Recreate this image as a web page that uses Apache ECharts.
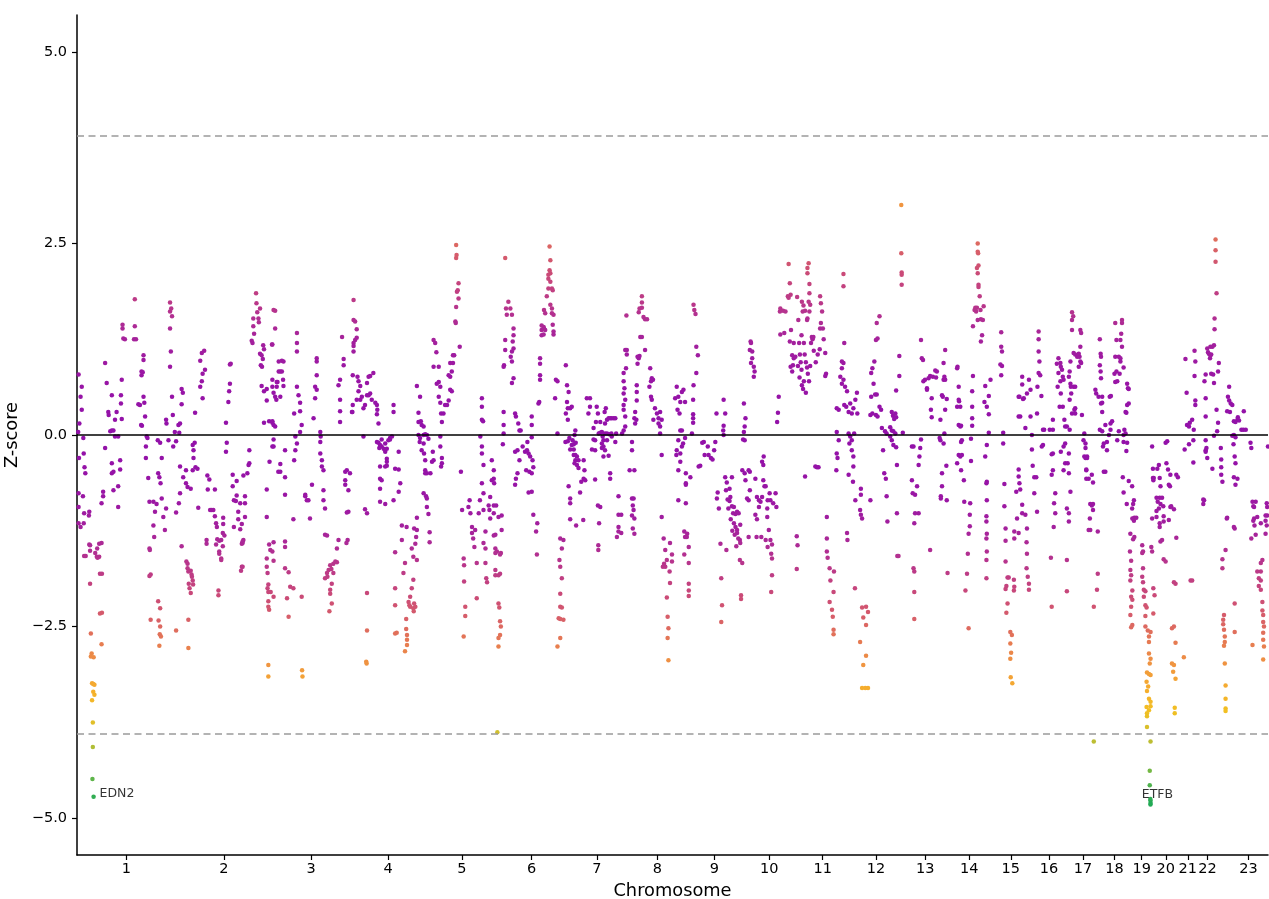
<!DOCTYPE html>
<html><head><meta charset="utf-8">
<script src="https://cdn.jsdelivr.net/npm/echarts@6/dist/echarts.min.js"></script>
<style>html,body{margin:0;padding:0;background:#fff}#c{width:1269px;height:899px}</style>
</head><body><div id="c"></div>
<script>
// Chromosome names and lengths (Mb, hg19)
const chromNames = ['1','2','3','4','5','6','7','8','9','10','11','12','13','14','15','16','17','18','19','20','21','22','23'];
const chromLengthMb = [249.25,243.2,198.0,191.15,180.9,171.1,159.1,146.4,141.2,135.5,135.0,133.85,115.2,107.35,102.5,90.35,81.2,78.1,59.1,63.0,48.1,51.3,155.3];
const yTicks = [-5, -2.5, 0, 2.5, 5];
const threshold = 3.9;
// [position within chromosome (Mb), z-score]
const chr1 = [[4,0.79],[12,0.63],[9,0.5],[12,0.33],[6,0.15],[3,0.04],[16,-0.04],[5,-0.3],[17,-0.24],[19,-0.42],[21,-0.5],[4,-0.76],[15,-0.8],[4,-0.94],[18,-1.02],[4,-1.15],[17,-1.15],[18,-1.58],[9,-1.2],[31,-1.0],[30,-1.05],[31,-1.43],[33,-1.51],[33,-1.94],[22,-1.58],[33,-1.44],[35,-2.59],[37,-2.85],[35,-2.89],[42,-2.9],[38,-3.24],[41,-3.25],[44,-3.26],[41,-3.35],[44,-3.39],[38,-3.46],[40,-3.75],[40,-4.07],[39,-4.49],[41.9,-4.72],[50,-1.59],[52,-1.6],[56,-1.42],[58,-1.81],[63,-1.81],[58,-2.33],[63,-2.32],[62,-2.73],[46,-1.54],[51,-1.48],[56,-1.59],[62,-1.41],[62,-0.89],[66,-0.8],[66,-0.74],[71,-0.17],[71,0.94],[75,0.68],[79,0.3],[80,0.26],[88,0.52],[84,0.05],[88,0.06],[92,0.06],[88,-0.37],[88,-0.5],[92,-0.48],[92,-0.72],[104,-0.67],[104,-0.94],[96,0.2],[100,0.3],[113,0.21],[111,0.41],[111,0.52],[113,0.72],[115,1.44],[115,1.39],[117,1.26],[121,1.25],[109,-0.33],[109,-0.45],[104,-0.02],[96,-0.02],[146,1.77],[146,1.42],[144,1.25],[149,1.25],[155,0.4],[159,0.39],[162,0.13],[164,0.12],[168,1.04],[168,0.98],[163,0.83],[163,0.78],[166,0.82],[168,0.5],[170,0.42],[172,0.24],[176,-0.02],[178,-0.04],[174,-0.15],[174,-0.3],[180,-0.56],[183,-0.87],[183,-1.48],[186,-1.82],[186,-2.41],[184,-1.5],[183,-1.84],[193,-0.87],[197,-1.0],[193,-1.18],[195,-1.33],[201,-0.9],[205,-0.5],[204,-0.07],[210,-0.1],[214,-0.3],[208,-0.55],[211,-0.63],[214,-0.83],[218,-1.07],[222,-1.24],[225,-0.96],[210,-2.26],[208,-2.75],[205,-2.17],[210,-2.5],[212,-2.63],[206,-2.42],[209,-2.6],[225,0.2],[226,0.15],[231,-0.07],[235,1.61],[235,1.39],[235,0.89],[237,1.09],[235,1.73],[238,1.65],[240,1.55],[240,0.5],[242,0.26],[243,-0.15],[247,0.04]];
const chr2 = [[1,-0.08],[7,0.13],[11,0.15],[9,0.03],[15,0.6],[18,0.55],[15,0.4],[1,-2.55],[26,-0.46],[26,-0.63],[30,-0.68],[11,-0.41],[11,-0.76],[8,-0.89],[19,-0.55],[1,-1.01],[15,-1.45],[43,-0.13],[45,-0.2],[45,-0.3],[43,-0.46],[50,-0.42],[48,-0.1],[55,-0.44],[38,-0.7],[27,-1.65],[30,-1.74],[38,-1.77],[41,-1.85],[43,-1.9],[38,-2.06],[33,-1.94],[32,-2.41],[32,-2.78],[30,-1.68],[32,-1.78],[40,-1.82],[35,-2.0],[44,-1.95],[49,0.29],[62,0.97],[66,1.07],[72,1.1],[74,0.85],[68,0.8],[66,0.7],[62,0.63],[68,0.48],[57,-0.95],[80,-0.53],[85,-0.58],[81,-0.71],[99,-0.71],[87,-0.98],[91,-0.98],[95,-0.98],[99,-1.06],[102,-1.15],[104,-1.2],[105,-1.36],[110,-1.38],[115,-1.37],[119,-1.28],[120,-1.16],[120,-1.08],[123,-1.31],[119,-1.45],[110,-1.52],[115,-1.61],[78,-1.37],[108,-2.03],[108,-2.09],[78,-1.42],[102,-1.43],[110,-1.55],[115,-1.63],[127,0.16],[129,-0.1],[127,-0.22],[137,0.67],[135,0.57],[133,0.43],[137,0.92],[139,0.93],[144,-0.52],[154,-0.6],[147,-0.85],[152,-0.86],[147,-1.2],[154,-0.79],[158,-1.0],[163,-0.89],[158,-1.1],[163,-1.23],[167,-1.16],[167,-1.42],[169,-1.41],[171,-1.37],[175,-1.07],[175,-0.8],[175,-0.89],[181,-0.5],[184,-0.39],[186,-0.37],[186,-0.2],[171,-0.53],[167,-1.72],[165,-1.77],[144,-0.67],[169,-1.39],[169,-1.72],[203,1.85],[204,1.72],[206,1.6],[209,1.52],[213,1.65],[210,1.47],[196,1.42],[196,1.52],[192,1.23],[194,1.2],[198,1.32],[213,1.06],[217,1.04],[220,0.99],[215,0.91],[218,0.89],[221,1.17],[223,1.12],[217,0.64],[223,0.57],[230,0.45],[223,0.16],[236,0.18],[230,0.6],[230,-0.71],[230,-1.07],[236,-1.43],[239,-1.5],[230,-1.72],[232,-1.8],[234,-1.95],[232,-2.0],[234,-2.05],[240,-2.05],[234,-2.17],[234,-2.24],[236,-2.28],[234,-3.0],[234,-3.15],[237,-0.35],[230,-1.61]];
const chr3 = [[1,1.18],[1,0.16],[8,1.62],[11,0.46],[14,0.69],[12,0.63],[4,-0.06],[4,-0.15],[16,-0.48],[4,1.63],[8,1.39],[0,1.18],[17,0.96],[25,0.97],[29,0.96],[17,0.83],[21,0.83],[25,0.83],[28,0.72],[29,0.64],[12,0.69],[1,0.72],[1,0.63],[4,0.55],[8,0.5],[21,0.5],[1,0.18],[4,0.13],[8,0.11],[1,-0.15],[33,-0.2],[21,-0.38],[21,-0.48],[33,-0.55],[33,-0.78],[4,-1.4],[1,-1.52],[4,-1.64],[33,-1.39],[33,-1.46],[4,-2.11],[33,-1.74],[42,-1.79],[46,-1.98],[54,-2.0],[38,-2.13],[42,-2.37],[63,1.33],[63,1.2],[63,1.09],[63,0.63],[67,0.52],[71,0.42],[71,0.31],[75,0.13],[71,0.04],[56,0.28],[59,-0.02],[63,-0.11],[59,-0.2],[56,-0.33],[54,-1.1],[84,-0.78],[88,-0.85],[92,-0.85],[101,-0.65],[96,-1.09],[84,-0.8],[75,-2.11],[76,-3.07],[77,-3.15],[113,1.0],[113,0.96],[113,0.78],[109,0.63],[113,0.59],[109,0.48],[105,0.22],[122,0.04],[123,-0.02],[122,-0.09],[122,-0.24],[126,-0.33],[126,-0.41],[130,-0.46],[130,-0.72],[130,-0.85],[134,-0.96],[134,-1.3],[139,-1.31],[168,-1.37],[164,-1.48],[155,-1.68],[160,-1.65],[164,-1.66],[147,-1.7],[143,-1.76],[139,-1.8],[134,-1.87],[151,-1.94],[147,-2.02],[147,-2.07],[151,-2.2],[145,-2.3],[191,-1.37],[188,-1.41],[140,-1.85],[150,-1.75],[155,-1.8],[177,1.28],[181,0.99],[181,0.91],[172,0.72],[168,0.65],[172,0.46],[172,0.31],[172,0.17],[189,-0.46],[185,-0.48],[197,-0.5],[185,-0.59],[185,-0.65],[193,-0.72],[193,-1.0],[189,-1.01]];
const chr4 = [[8,1.76],[8,1.5],[12,1.48],[16,1.38],[16,1.27],[12,1.24],[8,1.2],[8,1.16],[8,1.09],[6,0.78],[18,0.76],[20.5,0.7],[25,0.64],[20.5,0.57],[16,0.46],[29,0.5],[25,0.46],[6,0.39],[4,0.3],[5,0.3],[33,0.35],[37,0.39],[42,0.68],[46,0.76],[50,0.77],[58,0.81],[50,0.54],[54,0.46],[63,0.42],[67,0.39],[68,0.33],[67,0.27],[71,0.15],[42,0.52],[46,0.52],[33,-0.02],[37,-0.97],[42,-1.02],[42,-2.06],[42,-2.55],[40,-2.96],[41,-2.98],[67,-0.09],[71,-0.1],[75,-0.13],[79,-0.15],[73,-0.17],[84,-0.18],[88,-0.22],[92,-0.18],[96,-0.07],[100,-0.04],[105,-0.02],[100,-0.06],[79,-0.06],[88,-0.11],[92,-0.31],[92,-0.35],[88,-0.41],[92,-0.4],[75,-0.41],[75,-0.57],[79,-0.59],[75,-0.7],[75,-0.87],[88,-0.9],[109,0.39],[109,0.3],[122,-0.22],[113,-0.44],[122,-0.45],[126,-0.63],[122,-0.74],[109,-0.85],[130,-1.18],[130,-1.37],[113,-1.53],[142,-1.2],[138,-1.67],[134,-1.8],[113,-2.0],[113,-2.22],[117,-2.58],[113,-2.59],[141,-2.4],[141,-2.53],[143,-2.61],[143,-2.67],[143,-2.74],[138,-2.82],[168,0.64],[176,0.5],[172,0.29],[172,0.17],[178,0.18],[180,0.13],[185,0.11],[172,0.0],[176,-0.04],[185,0.0],[189,0.01],[175,-0.09],[180,-0.2],[185,-0.11],[186,-0.24],[189,-0.33],[189,-0.46],[189,-0.5],[185,-0.76],[168,-1.08],[161,-1.22],[168,-1.24],[166,-1.33],[164,-1.42],[155,-1.48],[159,-1.59],[168,-1.63],[159,-1.89],[155,-2.0],[151,-2.11],[147,-2.18],[149,-2.22],[151,-2.24],[159,-2.26],[161,-2.2],[164,-2.24],[160,-2.3]];
const chr5 = [[2,-0.5],[11,-0.5],[0,-0.8],[2,-0.83],[2,-0.94],[6,-1.03],[9,-1.27],[9,-1.4],[17,-0.22],[15,-0.35],[19,-0.33],[19,1.24],[23,1.2],[26,1.08],[19,0.89],[27,0.67],[32,0.69],[36,0.63],[32,0.5],[36,0.42],[38,0.28],[40,0.17],[40,-0.3],[40,-0.37],[38,-0.41],[36,-0.15],[36,-0.02],[32,0.89],[2,0.0],[6,-0.05],[44,0.28],[48,0.39],[53,0.39],[57,0.45],[61,0.59],[65,0.57],[61,0.76],[57,0.78],[65,0.83],[61,0.94],[68,0.94],[68,1.04],[71,1.04],[85,1.15],[74,1.48],[75,1.46],[76,1.67],[82,1.78],[78,1.87],[80,1.89],[82,1.98],[76,2.31],[77,2.35],[76,2.48],[88,-0.48],[91,-0.98],[95,-1.61],[96,-1.7],[96,-1.91],[99,-2.24],[99,-2.36],[95,-2.63],[110,-0.85],[107,-0.94],[112,-1.02],[116,-1.2],[116,-1.28],[119,-1.35],[124,-1.24],[122,-1.46],[128,-1.67],[133,-1.02],[136,-0.85],[128,-2.13],[141,0.48],[141,0.37],[141,0.2],[144,0.18],[137,-0.02],[141,-0.15],[141,-0.24],[145,-0.39],[141,-0.63],[145,-0.76],[145,-0.98],[150,-1.26],[145,-1.41],[150,-1.48],[150,-1.67],[152,-1.87],[154,-1.92],[166,-0.33],[171,-0.46],[171,-0.57],[166,-0.59],[172,-0.63],[162,-0.81],[160,-0.98],[158,-0.92],[171,-0.92],[177,-0.92],[171,-1.02],[162,-1.09],[175,-1.3],[171,-1.31],[175,-1.48],[179,-1.52],[175,-1.54],[175,-1.76],[175,-1.83],[180,-3.88]];
const chr6 = [[2,-2.2],[4,-2.25],[6,-2.43],[8,-2.5],[6,-2.61],[2,-2.65],[2,-2.76],[2,-1.83],[6,-1.81],[8,-1.54],[6,-1.56],[10,-1.24],[2,-1.07],[10,-1.05],[19,2.31],[21,1.65],[27,1.74],[32,1.65],[36,1.57],[23,1.57],[40,1.39],[40,1.3],[38,1.22],[40,1.13],[36,1.09],[33,1.02],[36,0.96],[36,0.68],[40,0.74],[19,1.24],[19,1.11],[16,0.91],[15,0.89],[15,0.3],[15,0.13],[15,0.02],[13,-0.12],[44,0.28],[46,0.24],[52,0.15],[55,0.06],[58,0.06],[44,-0.22],[50,-0.2],[55,-0.33],[50,-0.5],[46,-0.57],[44,-0.65],[63,-0.15],[69,-0.22],[74,-0.2],[75,-0.09],[78,-0.24],[82,-0.28],[72,-0.46],[80,-0.48],[86,-0.5],[90,-0.42],[88,-0.33],[86,0.13],[86,0.24],[86,-0.03],[78,-0.75],[86,-0.74],[90,-1.04],[100,-1.15],[97,-1.26],[99,-1.56],[105,0.43],[103,0.41],[107,0.72],[107,0.78],[107,0.93],[107,1.0],[111,1.37],[116,1.41],[111,1.43],[117,1.39],[120,1.37],[111,1.3],[116,1.31],[117,1.63],[120,1.59],[124,1.81],[128,1.91],[133,2.0],[128,2.04],[133,2.11],[128,2.09],[131,2.15],[133,2.28],[131,2.46],[137,1.91],[139,1.89],[133,1.7],[137,1.65],[137,1.59],[141,1.57],[139,1.44],[141,1.35],[141,1.31],[147,0.72],[151,0.7],[145,0.48],[151,0.02],[158,-1.35],[166,-1.37],[162,-1.48],[156,-1.63],[158,-1.72],[162,-1.87],[158,-2.07],[158,-2.24],[162,-2.25],[154,-2.39],[158,-2.4],[166,-2.41],[158,-2.65],[151,-2.76]];
const chr7 = [[1,0.91],[4,0.65],[8,0.56],[4,0.43],[1,0.28],[6,0.35],[12,0.35],[16,0.37],[6,0.2],[0,-0.09],[6,-0.08],[10,-0.04],[18,-0.07],[23,0.0],[25,0.06],[16,-0.13],[21,-0.12],[26,-0.1],[12,-0.19],[21,-0.19],[21,-0.26],[25,-0.26],[29,-0.28],[25,-0.33],[33,-0.33],[23,-0.37],[29,-0.39],[33,-0.43],[46,-0.33],[48,-0.46],[46,-0.57],[40,-0.61],[50,-0.59],[37,-0.75],[27,-1.18],[12,-0.83],[12,-0.89],[8,-0.67],[54,0.48],[62,0.48],[58,0.28],[62,0.37],[71,0.09],[71,-0.06],[67,-0.19],[75,-0.2],[75,-0.07],[77,0.17],[79,0.37],[82,0.28],[84,0.02],[88,0.03],[88,0.17],[92,0.04],[94,-0.02],[96,-0.07],[92,-0.11],[96,-0.15],[92,-0.17],[100,-0.2],[96,-0.28],[105,-0.07],[100,0.02],[100,0.15],[105,0.2],[109,0.22],[113,0.22],[117,0.22],[122,0.22],[126,0.22],[102,0.35],[99,0.3],[105,0.02],[111,0.01],[116,0.02],[117,-0.02],[109,-0.27],[126,-0.09],[128,0.02],[113,-0.5],[113,-0.57],[75,-0.58],[82,-0.92],[88,-0.94],[12,-1.1],[45,-1.11],[85,-1.15],[83,-1.44],[83,-1.5],[134,-0.8],[134,-1.04],[141,-1.04],[134,-1.2],[134,-1.26],[130,-1.33],[141,-1.28],[143,0.02],[147,0.06],[151,0.11],[151,0.24],[147,0.33],[147,0.39],[151,0.46],[147,0.54],[149,0.61],[147,0.7],[147,0.81],[153,0.87],[155,1.05],[151,1.11],[155,1.11],[154,1.56]];
const chr8 = [[9,-0.09],[9,-0.2],[3,-0.46],[15,-0.46],[9,-0.83],[13,-0.83],[11,-0.92],[13,-0.98],[9,-1.05],[15,-1.09],[11,-1.22],[15,-1.29],[20,0.2],[17,0.15],[15,0.22],[17,0.3],[21,0.45],[21,0.56],[21,0.65],[23,0.93],[26,1.0],[23,1.02],[28,1.03],[30,1.28],[34,1.28],[26,1.6],[28,1.65],[34,1.66],[34,1.73],[34,1.81],[38,1.54],[42,1.51],[47,1.51],[42,1.11],[55,0.87],[57,0.7],[59,0.74],[62,0.72],[53,0.63],[57,0.5],[59,0.46],[67,0.35],[72,0.28],[63,0.2],[76,0.22],[80,0.3],[84,0.2],[80,0.11],[76,0.15],[80,0.02],[84,-0.26],[84,-1.07],[89,-1.35],[93,-1.5],[97,-1.63],[93,-1.72],[87,-1.72],[90,-1.68],[105,-1.41],[110,-1.56],[110,-1.65],[104,-1.78],[105,-1.93],[97,-2.12],[99,-2.37],[101,-2.52],[99,-2.65],[101,-2.94],[118,0.48],[122,0.63],[126,0.5],[124,0.33],[129,0.28],[131,0.43],[135,0.56],[139,0.59],[143,0.43],[131,0.06],[135,0.06],[126,-0.07],[122,-0.2],[131,-0.24],[135,-0.15],[138,-0.11],[143,-0.04],[121,-0.26],[131,-0.35],[126,-0.46],[145,-0.5],[126,-0.85],[145,-0.63],[145,-0.65],[145,-0.89],[143,-1.33],[141,-1.56],[141,-1.26]];
const chr9 = [[2,-1.29],[6,-1.46],[6,-1.67],[6,-1.94],[6,-2.03],[6,-2.1],[1,-1.33],[18,1.7],[20,1.63],[23,1.58],[25,1.15],[29,1.04],[25,0.81],[18,0.65],[17,0.46],[17,0.27],[17,0.22],[17,0.16],[14,0.02],[10,-0.55],[40,-0.1],[44,-0.09],[46,-0.26],[56,-0.26],[54,-0.15],[35,-0.4],[31,-0.41],[76,0.28],[73,-0.09],[94,0.46],[98,0.28],[94,0.12],[93,0.06],[94,0.0],[79,-0.75],[77,-0.83],[82,-0.96],[86,-1.42],[101,-1.5],[88,-1.87],[90,-2.22],[88,-2.44],[62,-0.3],[66,-0.32],[70,-0.2],[98,-0.55],[102,-0.62],[100,-0.72],[115,-0.55],[109,-0.7],[111,-0.81],[104,-0.84],[109,-0.86],[115,-0.93],[120,-0.94],[118,-1.02],[124,-1.03],[128,-1.0],[132,-1.02],[120,-1.15],[124,-1.2],[128,-1.24],[128,-1.28],[136,-1.17],[135,-1.37],[136,-1.41],[135,-1.63],[141,-1.67],[138,-2.09],[138,-2.14],[106,-0.96],[112,-1.1],[116,-1.25],[122,-1.3],[126,-1.45],[131,-1.35]];
const chr10 = [[4,0.41],[8,0.22],[6,0.11],[4,0.04],[2,-0.06],[6,-0.07],[0,-0.46],[6,-0.5],[8,-0.59],[16,-0.46],[19,-0.48],[21,1.22],[22,1.2],[19,1.11],[25,1.09],[25,1.0],[22,0.94],[29,0.89],[31,0.83],[29,0.76],[19,-0.72],[12,-0.83],[16,-0.85],[33,-0.57],[37,-0.81],[42,-0.85],[42,-0.94],[33,-1.04],[37,-1.1],[46,-0.87],[50,-0.81],[53,-0.59],[56,-0.67],[54,-0.28],[50,-0.35],[53,-0.39],[59,-0.67],[64,-0.85],[71,-0.85],[63,-0.96],[63,-1.07],[69,-0.76],[78,-0.89],[84,-0.76],[86,-0.94],[67,-1.24],[71,-1.37],[75,-1.43],[59,-1.37],[64,-1.46],[73,-1.55],[75,-1.61],[75,-1.83],[73,-2.05],[48,-1.33],[36,-1.33],[16,-1.33],[88,0.17],[90,0.29],[92,0.5],[96,1.31],[95,1.61],[96,1.65],[103,1.62],[109,1.61],[106,1.33],[120,1.98],[117,2.23],[122,1.83],[115,1.81],[117,1.79],[123,1.37],[120,1.22],[130,1.2],[126,1.04],[130,1.0],[128,0.91],[122,0.89],[126,0.83],[134,1.02]];
const chr11 = [[3,1.8],[6,1.5],[8,1.2],[10,1.05],[12,0.95],[14,0.85],[5,0.9],[9,0.75],[15,0.65],[20,0.7],[14,1.3],[17,1.61],[15,1.74],[19,1.69],[23,1.62],[28,1.5],[32,2.24],[29,2.18],[29,2.11],[34,1.97],[34,1.85],[32,1.74],[36,1.7],[34,1.61],[29,1.52],[20,1.2],[22,1.05],[25,0.95],[28,0.88],[18,0.6],[25,0.55],[30,0.8],[33,0.7],[36,0.9],[40,1.28],[42,1.25],[38,1.2],[45,1.1],[61,1.81],[63,1.72],[66,1.61],[63,1.46],[61,1.39],[68,1.39],[44,1.28],[70,1.25],[74,1.07],[76,0.8],[74,0.77],[60,1.12],[55,1.05],[50,0.95],[49,-0.41],[53,-0.42],[57,-0.42],[23,-0.54],[2,-1.32],[4,-1.44],[2,-1.75],[78,-1.07],[78,-1.35],[78,-1.52],[80,-1.6],[85,-1.74],[87,-1.9],[96,-1.78],[95,-2.05],[85,-2.18],[91,-2.28],[93,-2.37],[95,-2.54],[95,-2.6],[120,2.1],[120,1.94],[122,1.2],[116,0.96],[120,0.94],[116,0.87],[112,0.76],[120,0.72],[116,0.67],[124,0.63],[129,0.57],[122,0.39],[127,0.37],[133,0.3],[103,0.35],[108,0.33],[103,0.04],[108,-0.07],[103,-0.24],[105,-0.3],[102,-0.46],[133,0.02],[129,-1.28],[130,-1.37],[133,-0.52]];
const chr12 = [[2,0.41],[6,0.28],[10,0.35],[15,0.46],[19,0.55],[20,0.28],[2,-0.02],[6,-0.07],[12,0.02],[0,-0.11],[6,-0.2],[10,-0.28],[10,-0.41],[9,-0.61],[29,-0.7],[29,-0.78],[15,-0.85],[27,-0.98],[29,-1.04],[32,-1.09],[53,-0.85],[58,0.87],[55,0.81],[63,0.96],[67,1.24],[71,1.26],[69,1.46],[76,1.55],[61,0.67],[55,0.5],[53,0.26],[58,0.28],[67,0.26],[71,0.24],[65,0.53],[69,0.53],[76,0.37],[80,0.33],[82,0.09],[90,0.05],[94,0.02],[96,-1.13],[94,-0.8],[88,-0.5],[92,-0.57],[85,-0.2],[131,3.0],[131,2.37],[132,2.12],[132,2.09],[132,1.96],[126,1.03],[126,0.77],[118,0.58],[107,0.3],[110,0.25],[113,0.21],[116,0.28],[118,0.23],[103,0.1],[107,0.06],[111,0.05],[116,0.02],[103,-0.02],[107,-0.07],[111,-0.13],[118,-0.16],[120,-1.02],[121,-1.58],[124,-1.58],[120,-0.39],[32,-2.25],[42,-2.24],[47,-2.31],[35,-2.38],[42,-2.48],[27,-2.7],[42,-2.88],[35,-3.0],[32,-3.3],[40,-3.3],[47,-3.3],[14,-2.0]];
const chr13 = [[1,0.03],[24,-0.15],[28,-0.15],[24,-0.59],[26,-0.76],[32,-0.78],[37,-0.67],[41,-0.39],[43,-0.28],[45,-0.17],[47,-0.06],[41,-1.02],[32,-1.02],[30,-1.15],[28,-1.74],[30,-1.78],[30,-2.05],[30,-2.4],[47,1.24],[49,1.0],[52,0.98],[53,0.7],[57,0.72],[62,0.61],[62,0.59],[66,0.74],[70,0.77],[77,0.76],[83,0.84],[87,0.83],[85,0.75],[104,0.72],[108,0.72],[104,0.94],[108,1.11],[106,0.76],[74,0.48],[72,0.33],[74,0.23],[96,0.2],[102,0.5],[112,0.47],[108,0.33],[100,0.52],[106,0.02],[104,-0.11],[96,-0.07],[94,-0.04],[100,-0.5],[100,-0.67],[111,-0.4],[112,-0.85],[114,-1.8],[97,-0.8],[97,-0.83],[70,-1.5]];
const chr14 = [[23,0.87],[24,0.89],[27,0.63],[27,0.46],[28,0.44],[23,0.37],[31,0.37],[27,0.13],[31,0.11],[33,0.12],[35,-0.07],[33,-0.09],[27,-0.26],[31,-0.28],[23,-0.37],[35,-0.26],[33,-0.46],[40,-0.59],[41,-0.87],[56,-0.89],[55,-1.04],[55,-1.19],[52,-1.29],[50,-1.55],[48,-1.81],[44,-2.03],[52,-2.52],[63,0.77],[61,0.57],[61,0.37],[61,0.22],[61,0.12],[58,-0.05],[58,-0.34],[75,2.5],[75,2.39],[76,2.37],[73,2.18],[77,2.21],[75,2.11],[77,1.96],[77,1.93],[80,1.81],[69,1.66],[73,1.66],[71,1.61],[67,1.63],[82,1.63],[63,1.42],[75,1.5],[83,1.51],[90,1.68],[88,1.5],[86,1.3],[83,1.22],[94,0.64],[92,0.43],[103,0.51],[98,0.37],[103,0.27],[103,0.03],[98,-0.13],[94,-0.28],[97,-0.63],[98,-0.61],[98,-0.85],[97,-1.06],[97,-1.13],[98,-1.29],[97,-1.35],[98,-1.52],[97,-1.63],[97,-1.87]];
const chr15 = [[0,0.72],[27,1.34],[27,1.15],[29,1.09],[25,0.92],[29,0.9],[27,0.78],[32,0.03],[32,-0.11],[35,-0.64],[35,-0.93],[38,-1.22],[38,-1.38],[38,-1.65],[43,-1.86],[46,-1.86],[40,-1.97],[38,-2.01],[59,-1.89],[59,-2.03],[60,-1.98],[40,-2.32],[43,-2.2],[50,-2.57],[54,-2.61],[50,-2.72],[52,-2.84],[50,-2.92],[51,-3.16],[55,-3.24],[67,-1.09],[71,-1.28],[60,-1.35],[60,-1.26],[65,-0.74],[71,-0.54],[71,-0.45],[73,-0.63],[75,-0.71],[80,-0.91],[80,-1.02],[88,-1.04],[92,-1.22],[91,-1.4],[92,-1.55],[91,-1.74],[94,-1.85],[97,-1.94],[97,-2.02],[71,0.5],[73,0.5],[80,0.76],[80,0.66],[84,0.48],[82,0.47],[75,0.24],[71,0.24],[88,0.09],[97,0.72],[92,0.54],[101,0.59],[101,0.24]];
const chr16 = [[2,0.0],[2,-0.19],[4,-0.4],[8,-0.55],[13,-0.55],[8,-0.76],[15,-1.0],[19,1.35],[19,1.25],[19,1.09],[21,0.96],[19,0.81],[23,0.78],[16,0.63],[26,0.51],[15,0.28],[30,0.07],[33,0.07],[30,-0.13],[27,-0.15],[47,0.07],[55,0.07],[55,0.2],[55,-0.24],[52,-0.25],[55,-0.46],[52,-0.52],[61,-0.76],[58,-0.89],[61,-1.02],[57,-1.2],[50,-1.6],[52,-2.24],[65,0.93],[69,1.0],[74,0.94],[75,0.89],[78,0.85],[80,0.76],[82,0.72],[75,0.54],[80,0.37],[84,0.2],[86,0.11],[69,0.81],[74,0.7],[67,0.63],[72,0.37],[75,-0.22],[82,-0.15],[86,-0.11],[86,-0.37],[82,-0.46]];
const chr17 = [[13,1.6],[13,1.5],[16,1.55],[13,1.37],[34,1.37],[36,1.33],[32,1.02],[34,0.96],[36,0.94],[30,0.89],[7,0.83],[9,0.96],[5,0.76],[9,0.67],[11,0.54],[7,0.46],[13,0.28],[19,0.33],[21,0.28],[38,0.26],[7,0.07],[0,0.11],[5,-0.24],[2,-0.37],[5,-0.5],[9,-0.74],[0,-0.96],[5,-1.02],[5,-1.13],[0,-1.63],[0,-2.04],[47,-0.11],[44,-0.28],[51,-0.28],[49,-0.46],[55,-0.57],[58,-1.09],[59,-1.24],[17,1.07],[21,1.05],[26,1.02],[30,1.06],[34,1.15],[10,0.63],[17,0.63],[21,0.63],[21,0.35],[44,0.02],[42,-0.07],[47,-0.17],[47,-0.3],[51,-0.3],[49,-0.45],[49,-0.57],[63,-0.52],[66,-0.62],[63,-0.92],[72,0.59],[74,0.54],[80,0.5],[59,-0.9],[66,-0.9],[66,-0.98],[55,-1.24],[78,-1.26],[78,-1.81],[76,-2.02],[68,-2.24],[68,-4.0]];
const chr18 = [[5,0.41],[8,0.3],[2,0.07],[8,0.05],[16,0.13],[12,-0.11],[10,-0.15],[20,-0.09],[20,-0.2],[25,0.0],[29,0.07],[33,0.18],[29,0.15],[16,-0.48],[12,-0.48],[2,1.25],[4,1.06],[5,1.02],[2,0.91],[4,0.83],[5,0.74],[8,0.5],[8,0.42],[27,0.5],[30,0.51],[39,0.8],[41,1.02],[44,1.24],[41,1.46],[58,1.5],[58,1.46],[56,1.32],[54,1.24],[58,1.15],[50,1.02],[54,1.0],[54,0.96],[52,0.8],[44,0.83],[46,0.7],[41,0.69],[62,0.88],[71,0.67],[73,0.61],[75,0.6],[75,0.41],[71,0.39],[69,0.29],[67,0.3],[64,0.07],[50,0.05],[46,-0.07],[62,0.0],[67,0.02],[69,-0.21],[71,-0.1],[62,-0.09],[60,-0.55],[62,-0.75],[70,-0.9],[75,-0.6]];
const chr19 = [[5.5,-0.67],[10,-0.85],[8,-0.9],[5.5,-0.96],[11,-1.08],[10,-1.12],[16,-1.08],[56,-0.15],[58,-0.44],[58,-0.56],[56,-1.09],[6,-1.09],[11,-1.33],[8,-1.36],[1,-1.29],[0,-1.52],[3,-1.64],[1,-1.76],[3,-1.83],[1,-1.9],[6,-2.03],[3,-2.11],[6,-2.15],[3,-2.24],[1,-2.35],[6,-2.48],[3,-2.51],[31,-1.44],[33,-1.52],[31,-1.54],[54,-1.46],[56,-1.52],[33,-1.74],[31,-1.85],[33,-1.92],[35,-2.02],[39,-2.04],[39,-2.22],[42,-2.25],[35,-2.11],[39,-2.36],[59,-2.0],[59,-2.33],[39,-2.5],[45,-2.55],[52,-2.57],[48,-2.63],[48,-2.7],[48,-2.85],[52,-2.92],[50,-2.98],[43,-3.1],[48,-3.12],[52,-3.13],[42,-3.22],[46,-3.28],[43,-3.34],[48,-3.44],[52,-3.48],[42,-3.55],[48,-3.59],[43,-3.63],[52,-3.54],[43,-3.67],[43,-3.81],[52,-4.0],[50,-4.38],[50,-4.57],[51.8,-4.77],[51.8,-4.82],[52,-4.8],[51.5,-4.75]];
const chr20 = [[1,-0.56],[0,-0.59],[10,-0.44],[14,-0.39],[16,-0.56],[18,-0.67],[8,-0.82],[11,-0.87],[16,-0.82],[18,-0.9],[22,-0.82],[25,-0.93],[26,-1.06],[14,-0.96],[8,-1.07],[16,-1.15],[31,-0.1],[35,-0.08],[33,-0.37],[39,-0.65],[37,-0.45],[42,-0.67],[43,-0.52],[45,-0.93],[52,-0.97],[58,-0.52],[62,-0.55],[3,-2.09],[18,-1.39],[22,-1.37],[26,-1.62],[31,-1.65],[8,-0.99],[16,-1.2],[26,-1.13],[39,-1.11],[43,-0.94],[58,-1.34],[56,-1.94],[52,-1.92],[47,-2.52],[52,-2.5],[56,-2.71],[47,-2.98],[52,-3.0],[50,-3.09],[56,-3.18],[54,-3.56],[54,-3.63]];
const chr21 = [[18,0.99],[21,0.55],[22,0.13],[27,0.11],[29,0.16],[35,0.2],[39,0.07],[38,-0.07],[41,1.1],[43,0.96],[41,0.77],[43,0.45],[43,0.39],[16,-0.19],[27,-0.12],[38,-0.36],[14,-2.9],[31,-1.9],[35,-1.9]];
const chr22 = [[25,1.13],[27,1.08],[29,1.06],[32,1.0],[33,1.04],[35,0.8],[40,0.79],[21,0.79],[18,0.7],[21,0.48],[21,0.24],[43.5,1.52],[43.5,1.38],[48.5,1.85],[46,2.26],[46,2.41],[46,2.55],[42,1.17],[38,1.15],[35,1.05],[33,1.15],[42,0.68],[48.5,0.33],[50,0.05],[42,-0.01],[21,-0.07],[23,-0.17],[21,-0.2],[21,-0.22],[25,-0.3],[38,-0.44],[15,-0.84],[17,-0.85],[15,-0.9]];
const chr23 = [[3,0.94],[1,0.83],[1,0.16],[8,-0.17],[9,-0.32],[9,-0.42],[9,-0.52],[12,-0.61],[24,-1.08],[29,0.63],[26,0.5],[29,0.45],[33,0.41],[37,0.39],[31,0.3],[24,0.31],[41,0.18],[45,0.17],[50,0.2],[54,0.19],[51,0.23],[60,0.07],[65,0.07],[71,0.07],[66,0.31],[41,0.0],[37,-0.01],[45,-0.03],[40,-0.12],[43,-0.28],[45,-0.37],[41,-0.55],[50,-0.57],[45,-0.65],[41,-1.2],[83,-0.1],[85,-0.17],[96,-0.87],[90,-0.93],[100,-1.07],[90,-1.12],[93,-1.18],[109,-1.15],[121,-1.12],[125,-1.05],[127,-0.15],[130,-0.41],[23,-1.09],[43,-1.22],[12,-1.62],[12,-1.74],[20,-1.5],[16,-2.35],[14,-2.41],[14,-2.47],[16,-2.54],[18,-2.63],[18,-2.7],[16,-2.75],[18,-2.98],[20,-3.27],[20,-3.44],[20,-3.57],[20,-3.6],[43,-2.2],[43,-2.57],[88,-2.74],[85,-1.35],[92,-1.09],[88,-0.87],[92,-0.94],[96,-1.3],[113,-1.63],[109,-1.67],[100,-1.78],[109,-1.78],[104,-1.87],[109,-1.9],[104,-1.97],[109,-2.02],[113,-2.18],[113,-2.29],[115,-2.35],[115,-2.44],[117,-2.5],[115,-2.58],[115,-2.67],[117,-2.76],[115,-2.93],[124,-0.89],[121,-1.05],[124,-1.18],[121,-1.29],[125,-0.94]];
// labelled genes: [gene, chromosome, position Mb, z]
const labelledGenes = [['EDN2','1',41.9,-4.72],['ETFB','19',51.8,-4.8]];

const chromData = [chr1,chr2,chr3,chr4,chr5,chr6,chr7,chr8,chr9,chr10,chr11,chr12,chr13,chr14,chr15,chr16,chr17,chr18,chr19,chr20,chr21,chr22,chr23];
const offsets = [];
let acc = 0;
chromLengthMb.forEach(l => { offsets.push(acc); acc += l; });
const mids = chromLengthMb.map((l, i) => offsets[i] + l / 2);
const points = [];
chromData.forEach((arr, i) => arr.forEach(([p, z]) => points.push([offsets[i] + p, z, Math.abs(z)])));
const labelPoints = labelledGenes.map(([g, c, p, z]) => {
  const i = chromNames.indexOf(c);
  return { value: [offsets[i] + p, z], name: g };
});

const FONT = 'DejaVu Sans';
const chart = echarts.init(document.getElementById('c'), null, { renderer: 'canvas' });
chart.setOption({
  animation: false,
  backgroundColor: '#ffffff',
  grid: { left: 77, right: 1, top: 15, bottom: 44, containLabel: false, outerBoundsMode: 'none' },
  xAxis: {
    type: 'value', min: 0, max: 3008,
    name: 'Chromosome', nameLocation: 'middle', nameGap: 27,
    nameTextStyle: { fontFamily: FONT, fontSize: 17.8, color: '#000' },
    axisLine: { show: true, onZero: false, lineStyle: { color: '#000', width: 1.5 } },
    axisTick: { show: true, length: 5, lineStyle: { color: '#000', width: 1.2 }, customValues: mids },
    axisLabel: {
      fontFamily: FONT, fontSize: 14.5, color: '#000', margin: 7, customValues: mids, hideOverlap: false,
      formatter: v => { let b = 0, d = 1e9; mids.forEach((m, i) => { if (Math.abs(m - v) < d) { d = Math.abs(m - v); b = i; } }); return chromNames[b]; }
    },
    splitLine: { show: false }
  },
  yAxis: {
    type: 'value', min: -5.48, max: 5.48,
    name: 'Z-score', nameLocation: 'middle', nameGap: 49, nameRotate: 90,
    nameTextStyle: { fontFamily: FONT, fontSize: 17.8, color: '#000' },
    axisLine: { show: true, onZero: false, lineStyle: { color: '#000', width: 1.5 } },
    axisTick: { show: true, length: 5, lineStyle: { color: '#000', width: 1.2 }, customValues: yTicks },
    axisLabel: {
      fontFamily: FONT, fontSize: 14.5, color: '#000', margin: 10, customValues: yTicks,
      formatter: v => (v < 0 ? '\u2212' : '') + Math.abs(v).toFixed(1)
    },
    splitLine: { show: false }
  },
  visualMap: {
    show: false, type: 'continuous', seriesIndex: 0, dimension: 2, min: 0, max: 4.8,
    inRange: { color: ['#9211a9','#9412a8','#9714a6','#9c18a3','#a3209d','#b02d93','#bd3b86','#ca4a78','#d86068','#e67a52','#f09540','#f5ad2e','#f2bf22','#cfbf2f','#98bd3c','#5cb54a','#22aa55'] }
  },
  series: [
    {
      type: 'scatter', data: points, symbolSize: 4.5, itemStyle: { opacity: 1 },
      markLine: {
        silent: true, symbol: ['none', 'none'], label: { show: false }, animation: false,
        data: [
          { yAxis: 0, lineStyle: { color: '#000', width: 1.5, type: 'solid' } },
          { yAxis: threshold, lineStyle: { color: '#9a9a9a', width: 1.5, type: [7, 4.5] } },
          { yAxis: -threshold, lineStyle: { color: '#9a9a9a', width: 1.5, type: [7, 4.5] } }
        ]
      }
    },
    {
      type: 'scatter', symbolSize: 0, silent: true,
      data: labelPoints.map((d, i) => ({
        value: d.value, name: d.name,
        label: i === 0 ? { position: [6, -3], align: 'left', verticalAlign: 'middle' }
                       : { position: [7, -8], align: 'center', verticalAlign: 'middle' }
      })),
      label: { show: true, formatter: p => p.name, fontFamily: FONT, fontSize: 12.5, color: '#000' }
    }
  ]
});
</script>
</body></html>
